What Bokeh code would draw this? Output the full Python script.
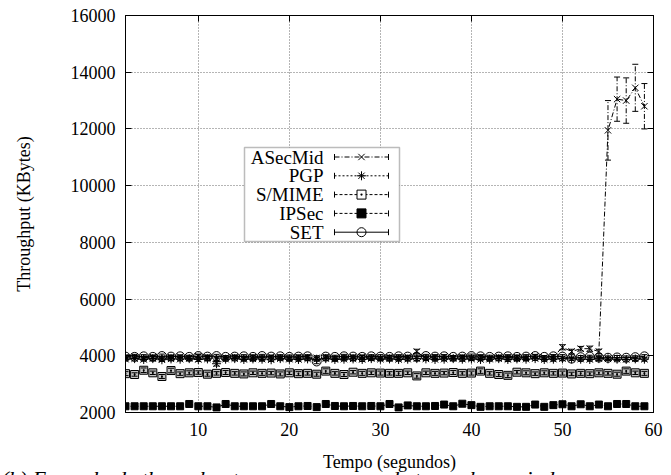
from bokeh.plotting import figure
from bokeh.models import (Range1d, LinearAxis, FixedTicker, ColumnDataSource,
                          Whisker, TeeHead, Label, BoxAnnotation, Title)
from bokeh.embed import file_html
from bokeh.resources import INLINE

FONT = "Liberation Serif"
FS = "18px"

# ---------------- data ----------------
seconds = list(range(2, 60))

asecmid = [3950, 3980, 3930, 3960, 3900, 3950, 3970, 3930, 3980, 3950,
           3900, 3940, 3960, 3920, 3950, 3930, 3970, 3940, 3920, 3960,
           3950, 3930, 3960, 3900, 3940, 3950, 3970, 3930, 3920, 3950,
           3940, 3960, 4150, 3930, 3950, 3970, 3940, 3960, 3930, 3950,
           3920, 3960, 3940, 3950, 3930, 3980, 3940, 3960, 4300, 4150,
           4250, 4250, 4150, 11950, 13050, 13000, 13450, 12800]
asecmid_err = [60, 70, 50, 60, 80, 60, 50, 70, 60, 60,
               70, 60, 50, 60, 70, 60, 50, 60, 70, 60,
               60, 70, 60, 80, 60, 50, 60, 70, 60, 60,
               60, 50, 80, 60, 70, 60, 60, 50, 70, 60,
               60, 50, 60, 70, 60, 50, 60, 70, 90, 80,
               80, 90, 80, 1050, 780, 800, 830, 800]

pgp = [3880, 3900, 3870, 3900, 3860, 3890, 3880, 3900, 3870, 3890,
       3720, 3880, 3900, 3870, 3890, 3880, 3860, 3900, 3880, 3870,
       3890, 3880, 3900, 3870, 3880, 3890, 3870, 3900, 3880, 3890,
       3870, 3880, 3900, 3890, 3870, 3880, 3900, 3880, 3890, 3870,
       3880, 3900, 3870, 3890, 3880, 3900, 3870, 3880, 3900, 3890,
       3880, 3870, 3900, 3890, 3880, 3870, 3890, 3880]
pgp_err = [60, 50, 60, 70, 60, 50, 60, 60, 70, 60,
           80, 60, 50, 60, 60, 70, 60, 50, 60, 60,
           60, 70, 60, 50, 60, 60, 70, 60, 50, 60,
           60, 60, 70, 60, 50, 60, 60, 70, 60, 50,
           60, 60, 70, 60, 50, 60, 60, 70, 60, 50,
           60, 60, 70, 60, 50, 60, 60, 70]

smime = [3370, 3340, 3490, 3400, 3270, 3480, 3370, 3400, 3410, 3350,
         3380, 3410, 3380, 3360, 3400, 3380, 3390, 3360, 3400, 3370,
         3380, 3350, 3460, 3380, 3340, 3420, 3380, 3400, 3390, 3380,
         3380, 3400, 3290, 3400, 3380, 3390, 3410, 3380, 3390, 3460,
         3380, 3340, 3310, 3420, 3400, 3370, 3400, 3380, 3390, 3360,
         3380, 3370, 3400, 3380, 3350, 3460, 3400, 3380]
smime_err = [70, 60, 80, 60, 70, 80, 60, 70, 60, 70,
             60, 70, 60, 70, 60, 70, 60, 70, 60, 70,
             60, 70, 80, 60, 70, 60, 70, 60, 70, 60,
             70, 60, 80, 60, 70, 60, 70, 60, 70, 80,
             60, 70, 80, 60, 70, 60, 70, 60, 70, 60,
             70, 60, 70, 60, 70, 80, 60, 70]

ipsec = [2220, 2220, 2220, 2220, 2220, 2220, 2220, 2300, 2220, 2220,
         2180, 2300, 2220, 2220, 2220, 2220, 2300, 2220, 2190, 2220,
         2230, 2190, 2300, 2230, 2220, 2230, 2220, 2230, 2220, 2300,
         2180, 2250, 2220, 2220, 2230, 2280, 2220, 2310, 2260, 2200,
         2220, 2220, 2220, 2200, 2200, 2280, 2200, 2260, 2290, 2220,
         2290, 2220, 2280, 2220, 2300, 2300, 2220, 2220]
ipsec_err = [40, 40, 40, 40, 40, 40, 40, 50, 40, 40,
             40, 50, 40, 40, 40, 40, 50, 40, 40, 40,
             40, 40, 50, 40, 40, 40, 40, 40, 40, 50,
             40, 40, 40, 40, 40, 50, 40, 50, 40, 40,
             40, 40, 40, 40, 40, 50, 40, 40, 50, 40,
             50, 40, 50, 40, 50, 50, 40, 40]

set_ = [3970, 3960, 3980, 3960, 3990, 3970, 3980, 3960, 3990, 3970,
        3990, 3960, 3970, 3980, 3960, 3990, 3970, 3980, 3960, 3970,
        3980, 3800, 3970, 3960, 3980, 3970, 3960, 3980, 3970, 3960,
        3980, 3970, 3960, 3990, 3970, 3980, 3960, 3970, 3990, 3980,
        3960, 3970, 3980, 3960, 3970, 3990, 3960, 3980, 3970, 3900,
        3950, 3970, 3940, 3930, 3940, 3930, 3950, 3980]
set_err = [60, 50, 60, 60, 70, 60, 50, 60, 70, 60,
           60, 50, 60, 60, 70, 60, 50, 60, 70, 60,
           60, 80, 60, 60, 70, 60, 50, 60, 70, 60,
           60, 50, 60, 60, 70, 60, 50, 60, 70, 60,
           60, 50, 60, 60, 70, 60, 50, 60, 70, 60,
           60, 50, 60, 60, 70, 60, 50, 60]

series_names = ["ASecMid", "PGP", "S/MIME", "IPSec", "SET"]
x_ticks = [10, 20, 30, 40, 50, 60]
y_ticks = [2000, 4000, 6000, 8000, 10000, 12000, 14000, 16000]
caption = "(b)  Exemplo de throughput com mensagens de tamanho variado"

# ---------------- figure ----------------
X0, X1, Y0, Y1 = 2, 60, 2000, 16000
FL, FR, FT, FB = 125, 653, 15, 412  # frame edges in canvas px

p = figure(width=671, height=475, output_backend="svg", toolbar_location=None,
           x_range=Range1d(X0, X1), y_range=Range1d(Y0, Y1),
           min_border_left=FL, min_border_right=671 - FR,
           min_border_top=FT, min_border_bottom=475 - FB)
p.outline_line_color = "black"
p.outline_line_width = 1
p.background_fill_color = "white"
p.border_fill_color = "white"


def style_axis(ax, ticks, labels=True):
    ax.ticker = FixedTicker(ticks=ticks)
    ax.major_tick_in = 6
    ax.major_tick_out = 0
    ax.minor_tick_line_color = None
    ax.axis_line_color = "black"
    ax.major_tick_line_color = "black"
    ax.major_label_text_font = FONT
    ax.major_label_text_color = "black"
    ax.major_label_text_font_size = FS
    ax.axis_label_text_font = FONT
    ax.axis_label_text_font_style = "normal"
    ax.axis_label_text_color = "black"
    ax.axis_label_text_font_size = FS
    if not labels:
        ax.major_label_overrides = {t: "" for t in ticks}
        ax.major_label_standoff = 0


style_axis(p.xaxis[0], x_ticks)
style_axis(p.yaxis[0], y_ticks)
p.xaxis.axis_label = "Tempo (segundos)"
p.yaxis.axis_label = "Throughput (KBytes)"
p.xaxis.major_label_standoff = 10
p.yaxis.major_label_standoff = 10
p.xaxis.axis_label_standoff = 13
p.yaxis.axis_label_standoff = 34

right = LinearAxis()
style_axis(right, y_ticks, labels=False)
p.add_layout(right, "right")
top = LinearAxis()
style_axis(top, x_ticks, labels=False)
p.add_layout(top, "above")

for g, t in ((p.xgrid, x_ticks), (p.ygrid, y_ticks)):
    g.ticker = FixedTicker(ticks=t)
    g.grid_line_color = "#6a6a6a"
    g.grid_line_dash = "1 2"
    g.grid_line_width = 1

styles = {
    "ASecMid": dict(y=asecmid, e=asecmid_err, dash="5 2 1 2", marker="x", fill=None, size=9),
    "PGP": dict(y=pgp, e=pgp_err, dash="2 2", marker="asterisk", fill=None, size=9),
    "S/MIME": dict(y=smime, e=smime_err, dash="3 2", marker="square_dot", fill="#c4c4c4", size=8),
    "IPSec": dict(y=ipsec, e=ipsec_err, dash="3 2", marker="square", fill="black", size=7),
    "SET": dict(y=set_, e=set_err, dash="solid", marker="circle", fill=None, size=9),
}

for name in ["IPSec", "S/MIME", "PGP", "SET", "ASecMid"]:
    s = styles[name]
    src = ColumnDataSource(dict(
        x=seconds, y=s["y"],
        upper=[a + b for a, b in zip(s["y"], s["e"])],
        lower=[a - b for a, b in zip(s["y"], s["e"])]))
    p.line("x", "y", source=src, line_color="black", line_width=1, line_dash=s["dash"])
    w = Whisker(source=src, base="x", upper="upper", lower="lower",
                line_color="black", line_width=1, line_dash=s["dash"],
                upper_head=TeeHead(size=6, line_color="black", line_width=1),
                lower_head=TeeHead(size=6, line_color="black", line_width=1),
                level="glyph")
    p.add_layout(w)
    p.scatter("x", "y", source=src, marker=s["marker"], size=s["size"],
              line_color="black", line_width=1, fill_color=s["fill"])


# ---------------- legend (layout in canvas pixels) ----------------
def dx(sx):
    return X0 + (sx - FL) * (X1 - X0) / (FR - FL)


def dy(sy):
    return Y1 - (sy - FT) * (Y1 - Y0) / (FB - FT)


LEG_L, LEG_R, LEG_T, LEG_B = 244, 399, 147, 241
ROW0, ROW_STEP = 156.5, 18.8
LAB_R, SAMP_L, SAMP_R, SAMP_M = 323, 334, 388, 361

p.add_layout(BoxAnnotation(left=dx(LEG_L), right=dx(LEG_R), top=dy(LEG_T), bottom=dy(LEG_B),
                           fill_color="white", fill_alpha=1, line_color="#222222",
                           line_width=1.5, level="annotation"))
legend_fill = {"ASecMid": None, "PGP": None, "S/MIME": "white", "IPSec": "black", "SET": None}
legend_size = {"ASecMid": 9, "PGP": 9, "S/MIME": 9, "IPSec": 9, "SET": 9}
cap = 3 * (Y1 - Y0) / (FB - FT)
for i, name in enumerate(series_names):
    s = styles[name]
    yy = dy(ROW0 + i * ROW_STEP)
    p.add_layout(Label(x=dx(LAB_R), y=yy, text=name, text_align="right",
                       text_baseline="middle", text_font=FONT, text_font_size="19px",
                       text_color="black", level="overlay"))
    p.segment(x0=[dx(SAMP_L)], y0=[yy], x1=[dx(SAMP_R)], y1=[yy], line_color="black",
              line_width=1, line_dash=s["dash"], level="overlay")
    p.segment(x0=[dx(SAMP_L), dx(SAMP_R)], y0=[yy - cap, yy - cap],
              x1=[dx(SAMP_L), dx(SAMP_R)], y1=[yy + cap, yy + cap],
              line_color="black", line_width=1, level="overlay")
    p.scatter(x=[dx(SAMP_M)], y=[yy], marker=s["marker"], size=legend_size[name],
              line_color="black", line_width=1, fill_color=legend_fill[name], level="overlay")

# caption below the plot, cut off by the bottom edge of the page as in the reference
# (an empty first line pushes the caption line down past the page edge)
cap_title = Title(text="\n" + caption, align="left", offset=-(FL - 1), standoff=-68,
                  vertical_align="top", text_font=FONT, text_font_style="italic",
                  text_font_size="22px", text_color="black")
p.add_layout(cap_title, "below")

open("out.html", "w").write(file_html(p, INLINE))
